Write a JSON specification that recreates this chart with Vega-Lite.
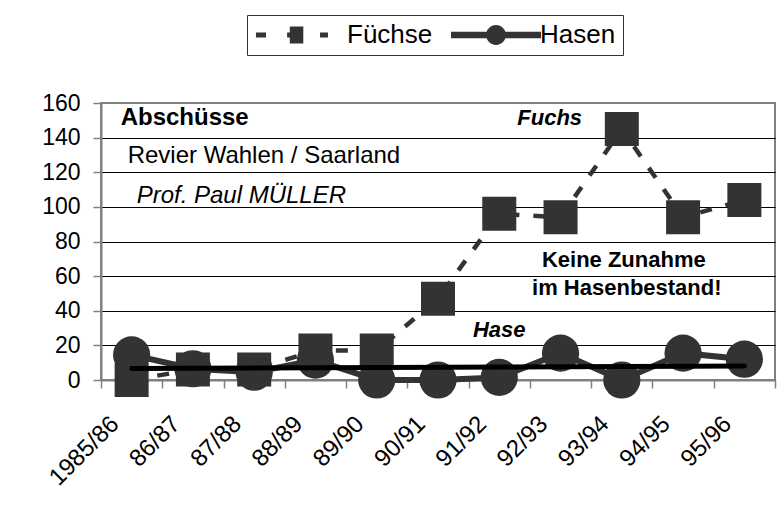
{
  "$schema": "https://vega.github.io/schema/vega-lite/v6.json",
  "width": 674,
  "height": 277,
  "autosize": {"type": "none"},
  "padding": {"left": 101, "top": 103, "right": 8, "bottom": 137},
  "background": "white",
  "config": {
    "font": "Liberation Sans",
    "view": {"stroke": "#808080", "strokeWidth": 2},
    "axisX": {
      "title": null,
      "grid": false,
      "domainColor": "#808080",
      "domainWidth": 2,
      "tickColor": "#808080",
      "tickWidth": 1.5,
      "tickSize": 8,
      "tickBand": "extent",
      "labelAngle": -45,
      "labelAlign": "right",
      "labelBaseline": "middle",
      "labelFont": "Liberation Sans",
      "labelFontSize": 24,
      "labelColor": "black",
      "labelPadding": 32,
      "labelOffset": -17
    },
    "axisY": {
      "title": null,
      "grid": true,
      "gridColor": "black",
      "gridWidth": 1,
      "domainColor": "#808080",
      "domainWidth": 2,
      "tickColor": "#808080",
      "tickWidth": 1.5,
      "tickSize": 8,
      "labelFont": "Liberation Sans",
      "labelFontSize": 23,
      "labelColor": "black",
      "labelPadding": 13,
      "labelOverlap": false
    }
  },
  "datasets": {
    "abschuesse": [
      {"Jahr": "1985/86", "Art": "Füchse", "Anzahl": 0},
      {"Jahr": "86/87", "Art": "Füchse", "Anzahl": 6},
      {"Jahr": "87/88", "Art": "Füchse", "Anzahl": 6},
      {"Jahr": "88/89", "Art": "Füchse", "Anzahl": 17},
      {"Jahr": "89/90", "Art": "Füchse", "Anzahl": 17},
      {"Jahr": "90/91", "Art": "Füchse", "Anzahl": 47},
      {"Jahr": "91/92", "Art": "Füchse", "Anzahl": 96},
      {"Jahr": "92/93", "Art": "Füchse", "Anzahl": 94},
      {"Jahr": "93/94", "Art": "Füchse", "Anzahl": 145},
      {"Jahr": "94/95", "Art": "Füchse", "Anzahl": 94},
      {"Jahr": "95/96", "Art": "Füchse", "Anzahl": 104},
      {"Jahr": "1985/86", "Art": "Hasen", "Anzahl": 14.5},
      {"Jahr": "86/87", "Art": "Hasen", "Anzahl": 6.5},
      {"Jahr": "87/88", "Art": "Hasen", "Anzahl": 4.5},
      {"Jahr": "88/89", "Art": "Hasen", "Anzahl": 11.5},
      {"Jahr": "89/90", "Art": "Hasen", "Anzahl": 0},
      {"Jahr": "90/91", "Art": "Hasen", "Anzahl": 0},
      {"Jahr": "91/92", "Art": "Hasen", "Anzahl": 1.5},
      {"Jahr": "92/93", "Art": "Hasen", "Anzahl": 15.5},
      {"Jahr": "93/94", "Art": "Hasen", "Anzahl": 0},
      {"Jahr": "94/95", "Art": "Hasen", "Anzahl": 15.5},
      {"Jahr": "95/96", "Art": "Hasen", "Anzahl": 12}
    ],
    "trend": [
      {"Jahr": "1985/86", "Anzahl": 6.6},
      {"Jahr": "95/96", "Anzahl": 8.1}
    ],
    "notizen": [
      {"Text": "Abschüsse", "Jahr": "1985/86", "Anzahl": 147.3},
      {"Text": "Revier Wahlen / Saarland", "Jahr": "1985/86", "Anzahl": 125.3},
      {"Text": "Prof. Paul MÜLLER", "Jahr": "1985/86", "Anzahl": 102.2},
      {"Text": "Fuchs", "Jahr": "91/92", "Anzahl": 147.3},
      {"Text": "Keine Zunahme", "Jahr": "93/94", "Anzahl": 65.3},
      {"Text": "im Hasenbestand!", "Jahr": "93/94", "Anzahl": 49.1},
      {"Text": "Hase", "Jahr": "91/92", "Anzahl": 24.8}
    ]
  },
  "encoding": {
    "x": {
      "field": "Jahr",
      "type": "ordinal",
      "sort": null,
      "scale": {
        "type": "band",
        "domain": ["1985/86", "86/87", "87/88", "88/89", "89/90", "90/91", "91/92", "92/93", "93/94", "94/95", "95/96"],
        "paddingInner": 0,
        "paddingOuter": 0
      }
    },
    "y": {
      "field": "Anzahl",
      "type": "quantitative",
      "scale": {"domain": [0, 160], "nice": false, "zero": true},
      "axis": {
        "values": [0, 20, 40, 60, 80, 100, 120, 140, 160],
        "gridColor": {"condition": {"test": "datum.value >= 160", "value": "#808080"}, "value": "black"}
      }
    }
  },
  "layer": [
    {
      "data": {"name": "abschuesse"},
      "transform": [{"filter": "datum.Art === 'Füchse'"}],
      "mark": {"type": "line", "color": "#333333", "strokeWidth": 4.5, "strokeDash": [12, 14]}
    },
    {
      "data": {"name": "abschuesse"},
      "transform": [{"filter": "datum.Art === 'Hasen'"}],
      "mark": {"type": "line", "color": "#333333", "strokeWidth": 6}
    },
    {
      "data": {"name": "abschuesse"},
      "transform": [{"filter": "datum.Art === 'Füchse'"}],
      "mark": {"type": "point", "shape": "square", "size": 1156, "filled": true, "opacity": 1, "color": "#333333", "strokeWidth": 0}
    },
    {
      "data": {"name": "abschuesse"},
      "transform": [{"filter": "datum.Art === 'Hasen'"}],
      "mark": {"type": "point", "shape": "circle", "size": 1385, "filled": true, "opacity": 1, "color": "#333333", "strokeWidth": 0}
    },
    {
      "data": {"name": "abschuesse"},
      "mark": {"type": "point", "filled": true, "opacity": 0, "size": 324, "color": "#333333", "strokeWidth": 0},
      "encoding": {
        "shape": {
          "field": "Art",
          "type": "nominal",
          "scale": {
            "domain": ["Füchse", "Hasen"],
            "range": [
              "M-4.56,-0.28H-3.44V0.28H-4.56Z M-1.1,-0.28H-0.8V0.28H-1.1Z M-0.8,-0.95H0.7V0.95H-0.8Z M2.56,-0.28H3.44V0.28H2.56Z",
              "M-4.33,-0.35H5.67V0.35H-4.33Z M-0.43,0A1.1,1.1 0 1,1 1.77,0A1.1,1.1 0 1,1 -0.43,0Z"
            ]
          },
          "legend": {
            "title": null,
            "orient": "none",
            "legendX": 146,
            "legendY": -88,
            "direction": "horizontal",
            "padding": 7,
            "strokeColor": "#333333",
            "fillColor": "white",
            "symbolSize": 324,
            "symbolOffset": 30,
            "symbolOpacity": 1,
            "symbolFillColor": "#333333",
            "symbolStrokeColor": "transparent",
            "symbolStrokeWidth": 0,
            "labelOffset": 37,
            "labelFont": "Liberation Sans",
            "labelFontSize": 26,
            "labelColor": "black",
            "columnPadding": 14
          }
        }
      }
    },
    {
      "data": {"name": "trend"},
      "mark": {"type": "line", "color": "black", "strokeWidth": 5, "strokeCap": "round"}
    },
    {
      "data": {"name": "notizen"},
      "transform": [{"filter": "datum.Text === 'Abschüsse'"}],
      "mark": {"type": "text", "font": "Liberation Sans", "fontSize": 24, "fontWeight": "bold", "align": "left", "baseline": "alphabetic", "dx": -11, "color": "black"},
      "encoding": {"text": {"field": "Text"}}
    },
    {
      "data": {"name": "notizen"},
      "transform": [{"filter": "datum.Text === 'Revier Wahlen / Saarland'"}],
      "mark": {"type": "text", "font": "Liberation Sans", "fontSize": 24, "align": "left", "baseline": "alphabetic", "dx": -4, "color": "black"},
      "encoding": {"text": {"field": "Text"}}
    },
    {
      "data": {"name": "notizen"},
      "transform": [{"filter": "datum.Text === 'Prof. Paul MÜLLER'"}],
      "mark": {"type": "text", "font": "Liberation Sans", "fontSize": 24, "fontStyle": "italic", "align": "left", "baseline": "alphabetic", "dx": 5, "color": "black"},
      "encoding": {"text": {"field": "Text"}}
    },
    {
      "data": {"name": "notizen"},
      "transform": [{"filter": "datum.Text === 'Fuchs'"}],
      "mark": {"type": "text", "font": "Liberation Sans", "fontSize": 22, "fontWeight": "bold", "fontStyle": "italic", "align": "left", "baseline": "alphabetic", "dx": 18, "color": "black"},
      "encoding": {"text": {"field": "Text"}}
    },
    {
      "data": {"name": "notizen"},
      "transform": [{"filter": "datum.Text === 'Keine Zunahme'"}],
      "mark": {"type": "text", "font": "Liberation Sans", "fontSize": 22, "fontWeight": "bold", "align": "center", "baseline": "alphabetic", "dx": 2, "color": "black"},
      "encoding": {"text": {"field": "Text"}}
    },
    {
      "data": {"name": "notizen"},
      "transform": [{"filter": "datum.Text === 'im Hasenbestand!'"}],
      "mark": {"type": "text", "font": "Liberation Sans", "fontSize": 22, "fontWeight": "bold", "align": "center", "baseline": "alphabetic", "dx": 5, "color": "black"},
      "encoding": {"text": {"field": "Text"}}
    },
    {
      "data": {"name": "notizen"},
      "transform": [{"filter": "datum.Text === 'Hase'"}],
      "mark": {"type": "text", "font": "Liberation Sans", "fontSize": 22, "fontWeight": "bold", "fontStyle": "italic", "align": "center", "baseline": "alphabetic", "color": "black"},
      "encoding": {"text": {"field": "Text"}}
    }
  ]
}
